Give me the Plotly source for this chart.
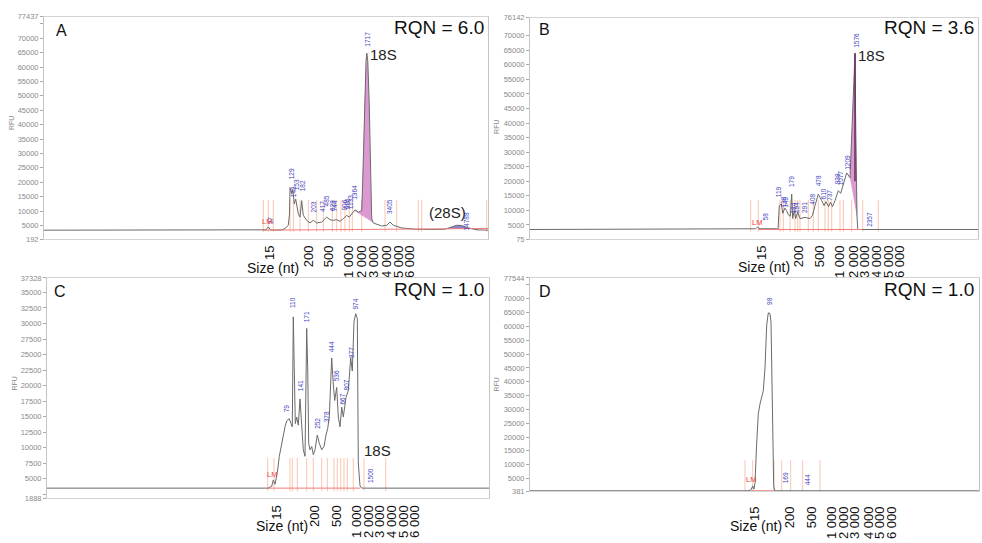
import numpy as np
import plotly.graph_objects as go

FIG_W, FIG_H = 982, 543

# Size ladder labels shared by all four electropherograms
ladder_labels = ["15", "200", "500", "1 000", "2 000", "3 000", "4 000", "5 000", "6 000"]

# ---------------------------------------------------------------- Panel A (RQN 6.0)
a_trace = [(0, 3366), (218, 3366), (222, 3500), (224.3, 4490), (226.5, 3500), (231, 3366),
           (238, 3500), (241, 3946), (244.3, 5073), (245.5, 9000), (246, 18144), (247.7, 15892),
           (248.7, 17598), (250.3, 12479), (251.7, 14185), (254.3, 9066), (256, 7906),
           (257.7, 13605), (259.3, 8486), (262.7, 6779), (266, 5858), (269.3, 6779), (272.7, 5858),
           (277.7, 6199), (282.7, 7906), (286, 7018), (289.3, 6779), (292.7, 7018), (296, 6438),
           (299.3, 7359), (302.7, 8486), (305.3, 7906), (307.7, 9066), (311, 10431), (314.3, 9612),
           (317.7, 10200), (318.7, 20000), (319.5, 30670), (320.5, 47735), (322, 62000),
           (322.8, 64800), (323.8, 62000), (325.2, 47735), (326, 30670), (326.8, 15000),
           (327.7, 7500), (329, 6000), (331, 5653), (337.7, 4834), (342.7, 5073), (346, 6199),
           (349.3, 5073), (357.7, 4151), (371, 3707), (387.7, 3600), (401, 3707), (407.7, 4493),
           (412.7, 5073), (417.7, 5000), (424.3, 4151), (432.7, 3500), (444, 3366)]
a_markers = [219.3, 224.3, 229.3, 246, 249.3, 256, 264.3, 272.7, 279.3, 288.3, 292.7, 297, 301,
             305.3, 308.3, 317.7, 341, 352.7, 374.3, 377.7, 442.7]
a_baseline = [(218, 3366), (306, 3600), (444, 3950)]
a_ladder = [226, 264.3, 284.3, 304.7, 317.3, 329.3, 342.7, 354.3, 366]
a_peaks = [("37", 226.5, 6600), ("129", 247.7, 22990), ("143", 250.3, 16677), ("153", 253.3, 19065),
           ("182", 259.3, 18724), ("203", 269.3, 11386), ("417", 278.3, 11557), ("485", 282.7, 13605),
           ("628", 288.3, 11898), ("744", 291, 11557), ("906", 301, 11898), ("986", 303.5, 12580),
           ("1133", 306.5, 12922), ("1364", 311, 16335), ("1717", 323.7, 69749),
           ("3405", 345, 11386), ("14788", 422.7, 6267)]
a_lm = (222.5, 6500)
a_yticks = [192, 5000, 10000, 15000, 20000, 25000, 30000, 35000, 40000, 45000, 50000, 55000,
            60000, 65000, 70000, 75000, 77437]

# ---------------------------------------------------------------- Panel B (RQN 3.6)
b_trace = [(0, 3451), (222, 3451), (225.5, 3700), (227.7, 4300), (230, 3700), (246.7, 3700),
           (248, 3451), (249.3, 11655), (251.3, 12300), (252.8, 9000), (254.8, 10800),
           (256.7, 9900), (258.3, 8500), (260.3, 8000), (261.7, 15600), (262.7, 7200),
           (264.3, 10000), (265.7, 7200), (267.7, 9500), (270, 7200), (275, 7600), (280, 7200),
           (282.5, 8300), (285, 11655), (288.3, 15600), (291.7, 13343), (294, 11655), (296, 13000),
           (298.5, 11300), (300.5, 12800), (302.5, 11300), (305, 13343), (308.3, 16762),
           (310.7, 15860), (313.3, 18981), (316.7, 22897), (320, 21207), (325, 63980),
           (325.7, 40000), (326.3, 20000), (327, 8000), (327.7, 3800), (328.5, 3451), (448, 3451)]
b_markers = [220.7, 228.3, 250, 253.3, 260, 265, 267.7, 270, 278.3, 283.3, 288.3, 295, 298.3,
             301.7, 310, 313.3, 321.7, 332.7, 348.3]
b_baseline = [(228, 3451), (332, 3451)]
b_ladder = [231.7, 268.3, 290, 310, 323.3, 335, 346.7, 358.3, 370]
b_peaks = [("58", 235.5, 7772), ("119", 249.3, 16380), ("138", 253, 12770), ("149", 255.5, 12770),
           ("179", 261.7, 20000), ("184", 263.5, 10810), ("194", 266, 10810), ("291", 274, 10810),
           ("408", 281.7, 13917), ("478", 288.3, 20095), ("610", 293.3, 15604), ("737", 300, 15000),
           ("938", 307.7, 20939), ("1077", 310.7, 21207), ("1209", 316.7, 26576),
           ("1576", 325.7, 68473), ("2357", 339.3, 6860)]
b_lm = (226.7, 6017)
b_yticks = [75, 5000, 10000, 15000, 20000, 25000, 30000, 35000, 40000, 45000, 50000, 55000,
            60000, 65000, 70000, 76142]

# ---------------------------------------------------------------- Panel C (RQN 1.0)
c_trace = [(0, 3504), (221, 3504), (224.7, 3800), (226.3, 4818), (228, 4137), (230.3, 5975),
           (232.3, 8620), (234.7, 10727), (236.3, 12311), (238, 13373), (239.7, 14322),
           (242.3, 14687), (244, 13895), (245.3, 13373), (246.3, 31065), (247.3, 22876),
           (248.3, 13895), (249.7, 14956), (251.3, 13640), (253, 17855), (254.7, 12849),
           (256.3, 9681), (258, 8620), (259.7, 29212), (260.7, 22876), (261.7, 10727), (263, 9681),
           (264.7, 10204), (266.3, 8890), (268, 9681), (270.3, 12057), (272.3, 10727),
           (274.7, 9681), (277, 10204), (279, 12057), (280.7, 13103), (282.3, 14956),
           (284.7, 24460), (286.3, 20230), (287.7, 17601), (289.7, 19708), (291.3, 14956),
           (293, 13373), (294.7, 16540), (296.3, 14956), (299, 18124), (301.3, 19185),
           (303.7, 24460), (305.3, 22353), (307, 30274), (308.7, 31588), (310.3, 30796),
           (311.3, 7559), (313, 3868), (314.7, 3504), (442, 3504)]
c_markers = [220.7, 227, 243, 245.3, 250.3, 259.7, 266.3, 274.7, 280.3, 287, 290.3, 293.7, 297,
             300.3, 306.3, 317, 338.7]
c_baseline = [(221, 3504), (313, 3504)]
c_ladder = [229.7, 268, 289.7, 309.7, 321.3, 333, 344.7, 356.3, 368]
c_peaks = [("79", 239.7, 16302), ("110", 246.3, 33330), ("141", 253.7, 20025), ("171", 259.7, 31113),
           ("252", 270.3, 13895), ("378", 280.3, 14956), ("444", 284.7, 26282), ("536", 289.7, 21609),
           ("667", 295.3, 17807), ("807", 299, 20025), ("877", 304, 25252), ("974", 308.7, 33172),
           ("1500", 323, 5452)]
c_lm = (225, 5769)
c_yticks = [1888, 2500, 5000, 7500, 10000, 12500, 15000, 17500, 20000, 22500, 25000, 27500,
            30000, 32500, 35000, 37328]

# ---------------------------------------------------------------- Panel D (RQN 1.0)
d_trace = [(0, 560), (218, 560), (221, 900), (222.7, 2337), (224, 1152), (225, 3521),
           (226.7, 17746), (228.3, 28414), (230, 31970), (233.3, 36722), (235, 45010),
           (236.7, 60418), (238.3, 64922), (240, 64566), (241, 61602), (242.3, 30785),
           (243.7, 2337), (244.7, 560), (449, 560)]
d_markers = [215, 222.7, 244, 251.7, 260.7, 272.7, 290]
d_baseline = [(221, 560), (244, 560)]
d_ladder = [225, 260, 281.7, 301.7, 313.3, 325, 338.3, 350, 361.7]
d_peaks = [("98", 239.3, 69300), ("169", 255, 5063), ("444", 278.3, 4470)]
d_lm = (221, 4708)
d_yticks = [381, 5000, 10000, 15000, 20000, 25000, 30000, 35000, 40000, 45000, 50000, 55000,
            60000, 65000, 70000, 75000, 77544]

# ---------------------------------------------------------------- styling / geometry
BIG = "Liberation Sans, Arial, sans-serif"
SMALL = "Liberation Sans, Arial, sans-serif"
TRACE_COL = "#6a6a6a"
MARK_COL = "rgba(242,150,110,0.55)"
RED_COL = "#f07a78"
BLUE_COL = "#4545c0"
PINK_COL = "rgba(214,134,200,0.85)"
PURPLE_COL = "rgba(120,108,196,0.85)"

panels = [
    dict(letter="A", rqn="RQN = 6.0", trace=a_trace, markers=a_markers, mk=(2800, 13900),
         base=a_baseline, ladder=a_ladder, peaks=a_peaks, lm=a_lm, yticks=a_yticks,
         box=(44, 488, 13, 239.3), standoff=0,
         fills=[(311, 329, 10000, 6000, PINK_COL), (403, 434, 3850, 3850, PURPLE_COL)],
         spike=None, extra=[("18S", 339.5, 64400), ("(28S)", 403, 9500)],
         letter_px=(61, 27), rqn_px=(486, 24), size_px=(272.5, 268), rfu_px=(12, 121)),
    dict(letter="B", rqn="RQN = 3.6", trace=b_trace, markers=b_markers, mk=(2700, 13600),
         base=b_baseline, ladder=b_ladder, peaks=b_peaks, lm=b_lm, yticks=b_yticks,
         box=(530, 978, 14, 239.3), standoff=0,
         fills=[(320, 327.3, 21207, 7000, PINK_COL)],
         spike=(325, 20000, 63980), extra=[("18S", 341, 63100)],
         letter_px=(544.5, 26), rqn_px=(976, 24), size_px=(764, 267), rfu_px=(497, 125)),
    dict(letter="C", rqn="RQN = 1.0", trace=c_trace, markers=c_markers, mk=(3000, 8350),
         base=c_baseline, ladder=c_ladder, peaks=c_peaks, lm=c_lm, yticks=c_yticks,
         box=(47, 489, 278.6, 502.5), standoff=1,
         fills=[], spike=None, extra=[("18S", 330.5, 9570)],
         letter_px=(60, 292.5), rqn_px=(486, 290.5), size_px=(282, 531), rfu_px=(15, 386)),
    dict(letter="D", rqn="RQN = 1.0", trace=d_trace, markers=d_markers, mk=(381, 11583),
         base=d_baseline, ladder=d_ladder, peaks=d_peaks, lm=d_lm, yticks=d_yticks,
         box=(530, 979, 278.5, 495.5), standoff=9,
         fills=[], spike=None, extra=[],
         letter_px=(545, 292.5), rqn_px=(976, 290), size_px=(756, 531), rfu_px=(497, 387)),
]


def paper(px, py):
    return px / FIG_W, 1 - py / FIG_H


def fill_polygon(t, y, t0, t1, b0, b1):
    t = np.asarray(t, float)
    y = np.asarray(y, float)
    inside = (t > t0) & (t < t1)
    xs = [t0] + list(t[inside]) + [t1, t1, t0]
    ys = [np.interp(t0, t, y)] + list(y[inside]) + [np.interp(t1, t, y), b1, b0]
    return xs, ys


fig = go.Figure()
annotations = []

for i, p in enumerate(panels, start=1):
    sfx = "" if i == 1 else str(i)
    xa, ya = "x" + sfx, "y" + sfx
    t, rfu = zip(*p["trace"])
    ymin, ymax = p["yticks"][0], p["yticks"][-1]

    # orange peak-boundary markers
    mx, my = [], []
    for m in p["markers"]:
        mx += [m, m, None]
        my += [p["mk"][0], p["mk"][1], None]
    fig.add_trace(go.Scatter(x=mx, y=my, mode="lines", line=dict(color=MARK_COL, width=1),
                             xaxis=xa, yaxis=ya, hoverinfo="skip", showlegend=False))

    # integrated rRNA peak areas
    for t0, t1, b0, b1, col in p["fills"]:
        fx, fy = fill_polygon(t, rfu, t0, t1, b0, b1)
        fig.add_trace(go.Scatter(x=fx, y=fy, mode="lines", fill="toself", fillcolor=col,
                                 line=dict(width=0), xaxis=xa, yaxis=ya, hoverinfo="skip",
                                 showlegend=False))

    # electropherogram
    fig.add_trace(go.Scatter(x=t, y=rfu, mode="lines", line=dict(color=TRACE_COL, width=1),
                             xaxis=xa, yaxis=ya, showlegend=False))

    if p["spike"]:
        st, s0, s1 = p["spike"]
        fig.add_trace(go.Scatter(x=[st, st], y=[s0, s1], mode="lines",
                                 line=dict(color="#6a2c62", width=1.5), xaxis=xa, yaxis=ya,
                                 hoverinfo="skip", showlegend=False))

    # baseline fit
    bt, br = zip(*p["base"])
    fig.add_trace(go.Scatter(x=bt, y=br, mode="lines", line=dict(color=RED_COL, width=1),
                             xaxis=xa, yaxis=ya, hoverinfo="skip", showlegend=False))

    # peak size labels
    for txt, pt, pr in p["peaks"]:
        annotations.append(dict(text=txt, x=pt, y=pr, xref=xa, yref=ya, showarrow=False,
                                textangle=-90, font=dict(family=SMALL, size=6.5, color=BLUE_COL),
                                xanchor="center", yanchor="middle", borderpad=0))
    annotations.append(dict(text="LM", x=p["lm"][0], y=p["lm"][1], xref=xa, yref=ya,
                            showarrow=False, font=dict(family=SMALL, size=7.5, color="#e8403c"),
                            xanchor="center", yanchor="middle", borderpad=0))
    for txt, et, er in p["extra"]:
        annotations.append(dict(text=txt, x=et, y=er, xref=xa, yref=ya, showarrow=False,
                                font=dict(family=BIG, size=15, color="#222"),
                                xanchor="center", yanchor="middle"))

    # panel letter, RQN, axis captions
    for txt, pos, size, anchor, extra in [(p["letter"], p["letter_px"], 16, "center", {}),
                                          (p["rqn"], p["rqn_px"], 19, "right", {}),
                                          ("Size (nt)", p["size_px"], 14, "center", {}),
                                          ("RFU", p["rfu_px"], 7, "center", {"textangle": -90})]:
        px_, py_ = paper(*pos)
        col = "#888" if txt == "RFU" else "#111"
        annotations.append(dict(text=txt, x=px_, y=py_, xref="paper", yref="paper",
                                showarrow=False, xanchor=anchor, yanchor="middle",
                                font=dict(family=BIG, size=size, color=col), **extra))

    l, r, top, bot = p["box"]
    yticktext = [str(v) if (v in (ymin, ymax) or v % 5000 == 0 and not (v == 75000) or
                            (v % 2500 == 0 and ymax < 40000 and v != 2500)) else ""
                 for v in p["yticks"]]
    fig.layout["xaxis" + sfx] = dict(
        domain=[l / FIG_W, r / FIG_W], range=[0, r - l], anchor=ya,
        tickmode="array", tickvals=p["ladder"], ticktext=ladder_labels, tickangle=-90,
        ticks="", ticklabelstandoff=p["standoff"],
        tickfont=dict(family=BIG, size=13, color="#111"),
        showgrid=False, zeroline=False, showline=True, linecolor="#d4d4d4", mirror=True)
    fig.layout["yaxis" + sfx] = dict(
        domain=[1 - bot / FIG_H, 1 - top / FIG_H], range=[ymin, ymax], anchor=xa,
        tickmode="array", tickvals=p["yticks"], ticktext=yticktext,
        ticks="outside", ticklen=3, tickcolor="#aaa",
        tickfont=dict(family=SMALL, size=7.5, color="#8a8a8a"),
        showgrid=False, zeroline=False, showline=True, linecolor="#c4c4c4", mirror=True)

fig.update_layout(width=FIG_W, height=FIG_H, margin=dict(l=0, r=0, t=0, b=0),
                  paper_bgcolor="white", plot_bgcolor="white", showlegend=False,
                  annotations=annotations)

fig.write_html("out.html")
